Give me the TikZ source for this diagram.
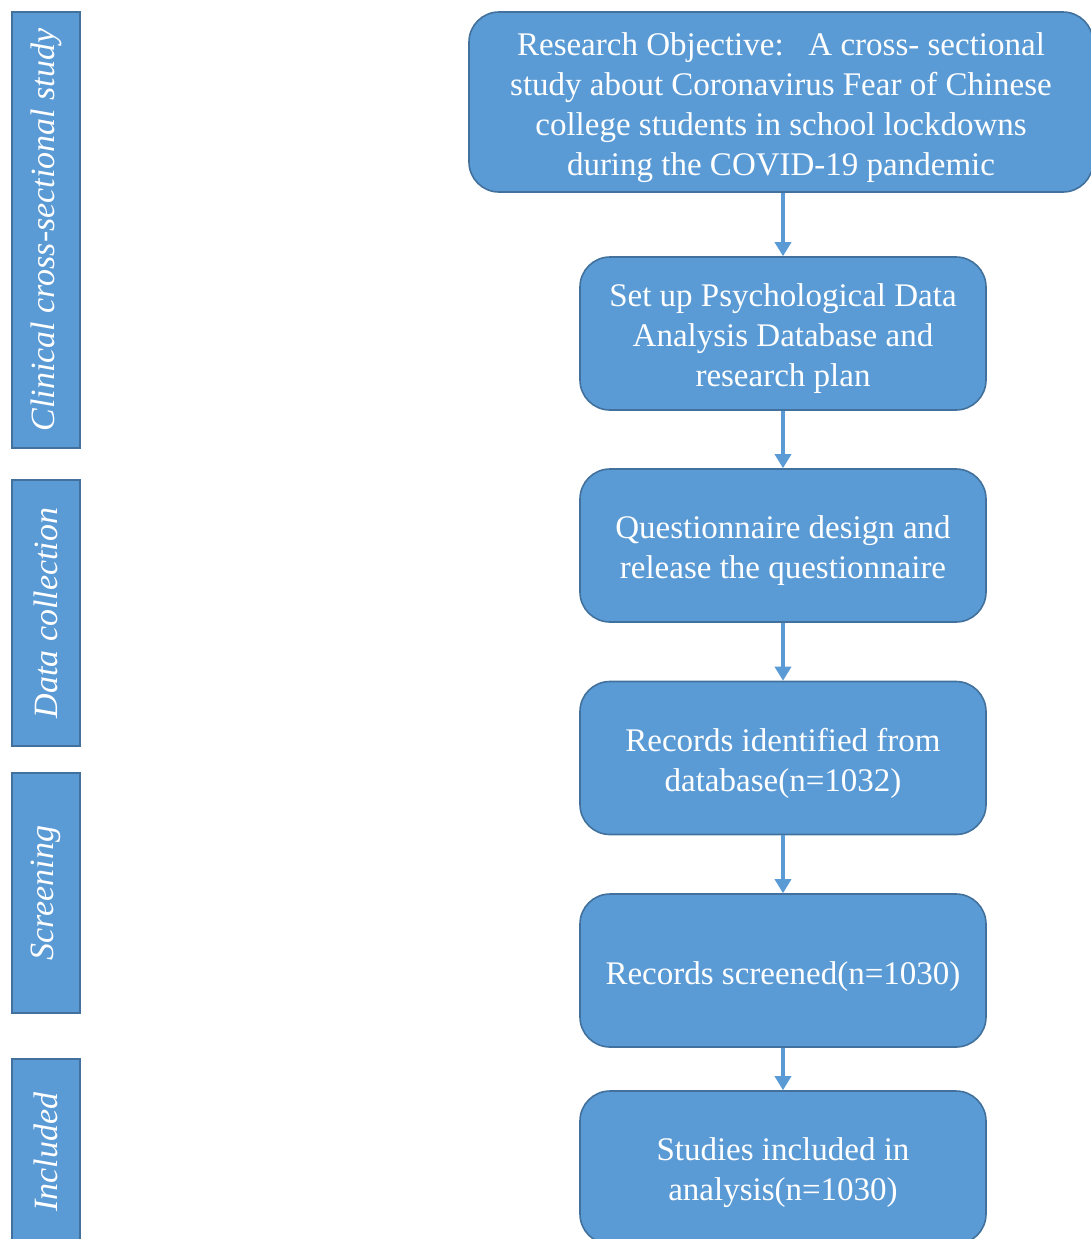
\documentclass[tikz,border=0pt]{standalone}
\usepackage{fontspec}
\setmainfont{Liberation Serif}
\usetikzlibrary{arrows.meta}
\definecolor{boxfill}{HTML}{5B9BD5}
\definecolor{boxline}{HTML}{41719C}

\begin{document}
\begin{tikzpicture}
  [x=0.5pt,y=-0.5pt,
   every node/.style={fill=boxfill,draw=boxline,line width=0.8pt,text=white,
     font=\fontsize{16.5}{20}\selectfont,align=center,inner sep=2pt},
   flowbox/.style={rounded corners=15pt,minimum width=203pt,minimum height=76.5pt,
     text width=198pt,align=flush center,execute at begin node={\rule{0pt}{17pt}}},
   stagebar/.style={rotate=90,minimum height=34pt,font=\fontsize{17}{20}\selectfont\itshape},
   flowarrow/.style={draw=boxfill,line width=1.7pt,-{Triangle[length=7pt,width=8pt]}}]
  \useasboundingbox (0,0) rectangle (1091,1239);
  \clip (0,0) rectangle (1091,1239);
  % stages on the left
  \node[stagebar,minimum width=218pt] (s1) at (46,230)  {Clinical cross-sectional study};
  \node[stagebar,minimum width=133pt] (s2) at (46,613)  {Data collection};
  \node[stagebar,minimum width=120pt] (s3) at (46,893)  {Screening};
  \node[stagebar,minimum width=93pt]  (s4) at (46,1152) {Included};
  % flow chart
  \node[flowbox,text width=308pt,minimum height=90pt] (b1) at (781,102)
    {Research Objective:\ \ \ A cross- sectional\\study about Coronavirus Fear of Chinese\\college students in school lockdowns\\during the COVID-19 pandemic};
  \node[flowbox] (b2) at (783,333.5)  {Set up Psychological Data\\Analysis Database and\\research plan};
  \node[flowbox] (b3) at (783,545.5)  {Questionnaire design and\\release the questionnaire};
  \node[flowbox] (b4) at (783,758)    {Records identified from\\database(n=1032)};
  \node[flowbox] (b5) at (783,970.5)  {Records screened(n=1030)};
  \node[flowbox] (b6) at (783,1167.5) {Studies included in\\analysis(n=1030)};
  \foreach \from/\to in {b1/b2,b2/b3,b3/b4,b4/b5,b5/b6}
    \draw[flowarrow] (\from.south -| \to.north) -- (\to.north);
\end{tikzpicture}
\end{document}
